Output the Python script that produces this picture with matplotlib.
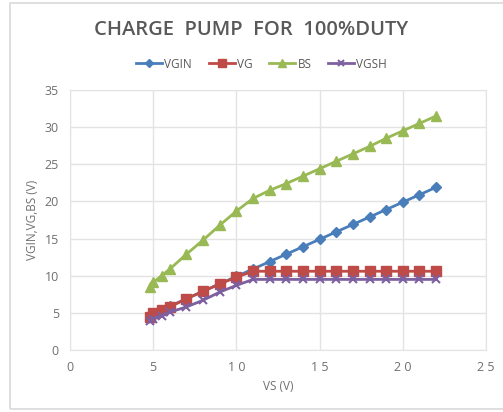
import matplotlib.pyplot as plt
from matplotlib.patches import Rectangle

plt.rcParams['font.family'] = ['Open Sans', 'DejaVu Sans']

# ==========================================
# Data
# ==========================================
vs = [4.8, 5, 5.5, 6, 7, 8, 9, 10, 11, 12, 13, 14, 15, 16, 17, 18, 19, 20, 21, 22]
vgin = [4.6, 5.0, 5.4, 5.9, 6.9, 7.9, 8.9, 9.9, 10.9, 11.9, 12.9, 13.9, 14.9,
        15.9, 16.9, 17.9, 18.9, 19.9, 20.9, 21.9]
vg = [4.5, 5.0, 5.4, 5.8, 6.9, 7.9, 8.9, 9.8, 10.6, 10.6, 10.6, 10.6, 10.6,
      10.6, 10.6, 10.6, 10.6, 10.6, 10.6, 10.6]
bs = [8.5, 9.1, 10.0, 10.9, 12.9, 14.8, 16.8, 18.7, 20.4, 21.5, 22.4, 23.4,
      24.4, 25.4, 26.4, 27.4, 28.5, 29.5, 30.5, 31.5]
vgsh = [3.9, 4.2, 4.6, 5.1, 5.8, 6.7, 7.8, 8.7, 9.5, 9.5, 9.5, 9.5, 9.5,
        9.5, 9.5, 9.5, 9.5, 9.5, 9.5, 9.5]

x_ticks = [0, 5, 10, 15, 20, 25]
x_tick_labels = ['0', '5', '1 0', '1 5', '2 0', '2 5']
y_ticks = [0, 5, 10, 15, 20, 25, 30, 35]

# ==========================================
# Plot
# ==========================================
fig = plt.figure(figsize=(5.03, 4.12), dpi=100)
fig.patches.append(Rectangle((10 / 503, 3 / 412), 500 / 503, 406 / 412,
                             transform=fig.transFigure, fill=False,
                             edgecolor='#d9d9d9', lw=1.2))
ax = fig.add_axes([70 / 503, 1 - 350 / 412, 416 / 503, 260 / 412])

ax.plot(vs, vgin, '-D', color='#4a7ebb', lw=2, ms=5, label='VGIN')
ax.plot(vs, vg, '-s', color='#be4b48', lw=2, ms=7, label='VG')
ax.plot(vs, bs, '-^', color='#98b954', lw=2, ms=7, label='BS')
ax.plot(vs, vgsh, '-x', color='#7d60a0', lw=2, ms=6, mew=1.5, label='VGSH')

ax.set_xlim(0, 25)
ax.set_ylim(0, 35)
ax.set_xticks(x_ticks)
ax.set_xticklabels(x_tick_labels)
ax.set_yticks(y_ticks)
ax.grid(True, color='#e3e3e3', lw=1)
ax.set_axisbelow(True)
for s in ax.spines.values():
    s.set_color('#e3e3e3')
ax.tick_params(length=0, colors='#6f6f6f', labelsize=9, pad=8)

ax.set_xlabel('VS (V)', fontsize=8.5, color='#6f6f6f', labelpad=4)
ax.set_ylabel('VGIN,VG,BS (V)', fontsize=8.5, color='#6f6f6f', labelpad=4)

fig.text(0.5, 1 - 30 / 412, 'CHARGE  PUMP  FOR  100%DUTY', ha='center', va='center',
         fontsize=14.5, fontweight='semibold', color='#595959')
fig.legend(loc='center', bbox_to_anchor=(0.52, 1 - 64 / 412), ncol=4, frameon=False,
           fontsize=8.5, labelcolor='#595959', handlelength=2.2, columnspacing=1.4,
           handletextpad=0.2, markerscale=0.8)

plt.savefig('out.png', dpi=100)
